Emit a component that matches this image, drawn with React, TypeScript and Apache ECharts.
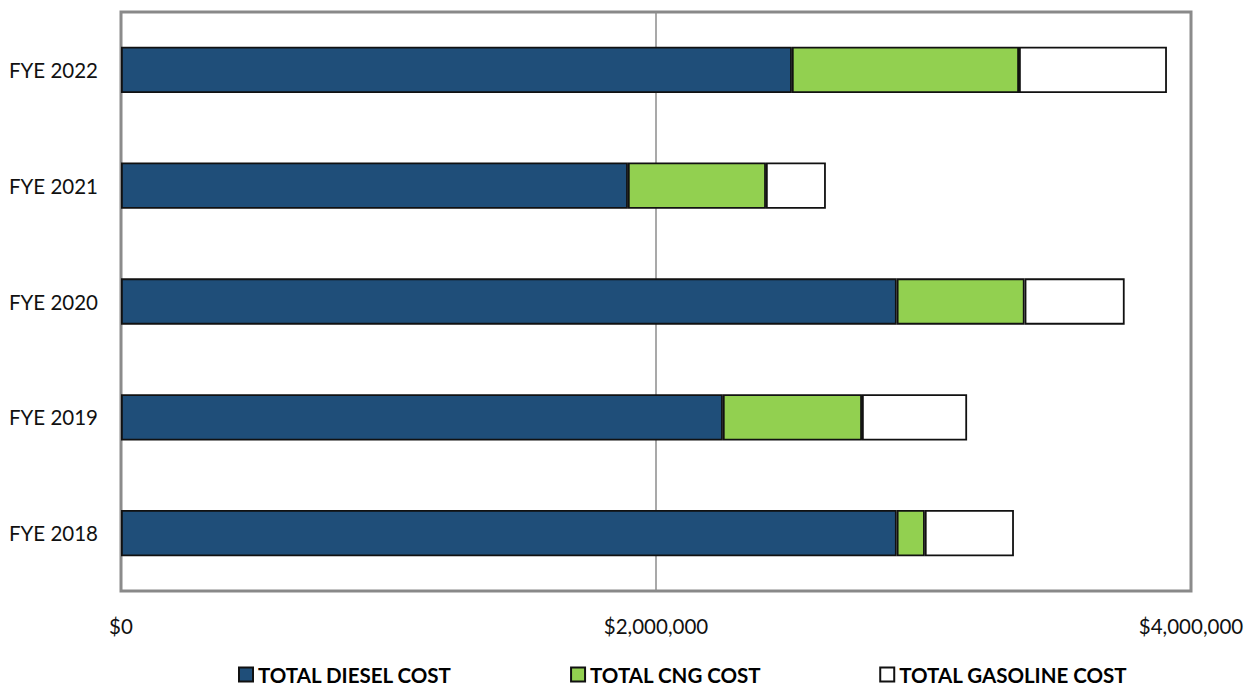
import React, { useEffect, useRef } from "react";
import * as echarts from "echarts";

const categories = ["FYE 2018", "FYE 2019", "FYE 2020", "FYE 2021", "FYE 2022"];
const dieselCost = [2900000, 2250000, 2900000, 1895000, 2508000];
const cngCost = [105000, 520000, 478000, 516000, 849000];
const gasolineCost = [333000, 393000, 374000, 224000, 553000];
const seriesNames = ["TOTAL DIESEL COST", "TOTAL CNG COST", "TOTAL GASOLINE COST"];
const seriesColors = ["#1F4E79", "#92D050", "#FFFFFF"];

const fmt = (v: number) => "$" + v.toLocaleString("en-US");

export default function App() {
  const ref = useRef<HTMLDivElement>(null);
  useEffect(() => {
    if (!ref.current) return;
    const chart = echarts.init(ref.current, null, { renderer: "svg" });
    const data = [dieselCost, cngCost, gasolineCost];
    chart.setOption({
      animation: false,
      textStyle: { fontFamily: "Lato" },
      grid: {
        left: 121,
        right: 67,
        top: 12,
        bottom: 99,
        show: true,
        borderColor: "#898989",
        borderWidth: 3,
      },
      legend: {
        top: 664,
        left: 238,
        itemGap: 118,
        itemWidth: 14,
        itemHeight: 14,
        icon: "rect",
        padding: 0,
        textStyle: { fontFamily: "Lato", fontSize: 20.5, fontWeight: "bold", color: "#000" },
        data: seriesNames,
      },
      xAxis: {
        type: "value",
        min: 0,
        max: 4000000,
        interval: 2000000,
        axisLine: { show: false },
        axisTick: { show: false },
        splitLine: { show: true, lineStyle: { color: "#8c8c8c", width: 1.5 } },
        axisLabel: {
          formatter: (v: number) => fmt(v),
          fontSize: 20.5,
          color: "#111",
          margin: 24,
          fontFamily: "Lato",
        },
      },
      yAxis: {
        type: "category",
        data: categories,
        axisLine: { show: false },
        axisTick: { show: false },
        axisLabel: { fontSize: 20.5, color: "#111", margin: 23, fontFamily: "Lato" },
      },
      series: seriesNames.map((name, i) => ({
        name,
        type: "bar",
        stack: "total",
        barWidth: "40%",
        data: data[i],
        itemStyle: { color: seriesColors[i], borderColor: "#111", borderWidth: 1.8 },
      })),
    });
    return () => chart.dispose();
  }, []);
  return <div ref={ref} style={{ width: 1258, height: 690, position: "absolute", left: 0, top: 0 }} />;
}
